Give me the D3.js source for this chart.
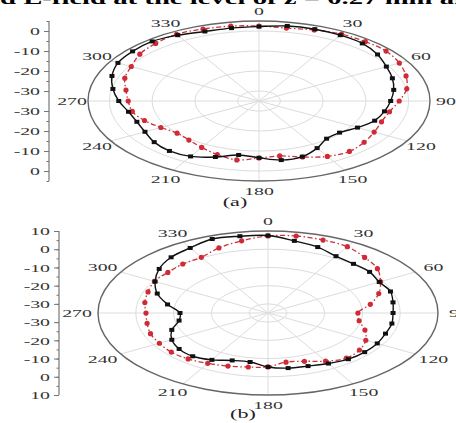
<!DOCTYPE html>
<html><head><meta charset="utf-8">
<script src="https://cdn.jsdelivr.net/npm/d3@7"></script>
<style>html,body{margin:0;padding:0;background:#fff;overflow:hidden}</style>
</head><body><svg id="c" width="456" height="423"></svg>
<script>
// angles (deg, clockwise from top)
const angles = d3.range(0, 360, 10);
const angleLabels = [0,30,60,90,120,150,180,210,240,270,300,330];
// Plot (a) values (dB)
const aBlack = [2.2,3.1,3.2,3.0,2.6,1.2,-0.6,-1.8,-3.0,-4.2,-5.2,-6.2,-8.4,-10.4,-10.4,-7.8,-5.4,-5.0,
                -6.6,-7.6,-5.2,-3.0,-2.4,-3.0,-4.2,-4.6,-4.0,-2.2,-0.3,1.6,3.1,3.6,3.9,3.0,2.0,2.0];
const aRed   = [2.5,2.0,2.8,3.6,3.7,3.8,2.9,1.6,0.1,-2.2,-4.0,-4.5,-3.9,-2.9,-2.1,-3.0,-5.2,-7.1,
                -6.5,-5.1,-6.5,-8.2,-9.5,-10.0,-8.5,-6.5,-4.9,-4.4,-3.4,-1.6,-0.5,1.4,2.6,3.5,3.3,3.0];
// Plot (b) values (dB)
const bBlack = [7.5,5.2,3.5,1.0,0.2,0.1,-1.0,-0.5,-1.4,-1.9,-1.7,-1.9,-1.6,-1.6,-1.9,-3.0,-4.0,-4.3,
                -5.4,-7.7,-7.3,-5.3,-4.0,-4.3,-5.6,-7.9,-11.1,-11.7,-8.0,-3.8,-0.5,2.6,4.9,6.2,8.2,7.8];
const bRed   = [7.3,7.9,7.6,7.0,4.8,2.8,-0.6,-3.8,-7.5,-11.2,-10.5,-7.7,-5.1,-3.4,-2.7,-4.5,-6.8,-7.6,
                -5.4,-4.9,-4.0,-3.1,-2.1,-1.6,-1.8,-1.9,-2.5,-2.7,-1.9,-1.2,-0.3,-0.4,0.1,0.3,3.0,5.2];
const aTicks = [0,-10,-20,-30];
const bTicks = [10,0,-10,-20,-30];
const rings = [-30,-20,-10,0];
const titleText = "d E-field at the level of z = 0.27 mm an";

const svg = d3.select("#c");
const SX = 1.8; // horizontal stretch of glyphs
const FONT = "'Liberation Serif','Times New Roman',serif";

svg.append("text").attr("x",0).attr("y",4)
  .attr("font-family",FONT).attr("font-weight","bold").attr("font-size",17)
  .attr("textLength",470).attr("lengthAdjust","spacingAndGlyphs")
  .attr("fill","#000").text(titleText);

function drawPlot(cfg){
  const {cx,cy,rx,ry,domain,axisX,ticks,black,red,caption,capX,capY,labDx} = cfg;
  const g = svg.append("g");
  const sx = d3.scaleLinear().domain(domain).range([0,rx]);
  const sy = d3.scaleLinear().domain(domain).range([0,ry]);
  const px = (a,v)=> cx + sx(v)*Math.sin(a*Math.PI/180);
  const py = (a,v)=> cy - sy(v)*Math.cos(a*Math.PI/180);
  // grid rings
  g.selectAll(".ring").data(rings).join("ellipse")
    .attr("cx",cx).attr("cy",cy).attr("rx",d=>sx(d)).attr("ry",d=>sy(d))
    .attr("fill","none").attr("stroke","#dcdcdc").attr("stroke-width",1);
  // spokes
  g.selectAll(".spoke").data(angleLabels).join("line")
    .attr("x1",cx).attr("y1",cy)
    .attr("x2",a=>px(a,domain[1])).attr("y2",a=>py(a,domain[1]))
    .attr("stroke","#dcdcdc").attr("stroke-width",1);
  // outer ellipse
  g.append("ellipse").attr("cx",cx).attr("cy",cy).attr("rx",rx).attr("ry",ry)
    .attr("fill","none").attr("stroke","#666").attr("stroke-width",1.4);
  // angle labels
  g.selectAll(".al").data(angleLabels).join("text")
    .attr("transform",a=>`translate(${cx+(rx+labDx)*Math.sin(a*Math.PI/180)},${cy-(ry+10)*Math.cos(a*Math.PI/180)}) scale(${SX},1)`)
    .attr("text-anchor","middle").attr("dominant-baseline","central")
    .attr("font-family",FONT).attr("font-size",11).attr("fill","#333")
    .text(a=>a);
  // series
  const line = d3.line().x(d=>px(d.a,d.v)).y(d=>py(d.a,d.v)).curve(d3.curveCatmullRomClosed.alpha(0.5));
  const redData = angles.map((a,i)=>({a,v:red[i]}));
  const blackData = angles.map((a,i)=>({a,v:black[i]}));
  g.append("path").datum(redData).attr("d",line).attr("fill","none")
    .attr("stroke","#cc2f38").attr("stroke-width",1.3).attr("stroke-dasharray","5,2.5,1.5,2.5");
  g.selectAll(".rm").data(redData).join("circle")
    .attr("cx",d=>px(d.a,d.v)).attr("cy",d=>py(d.a,d.v)).attr("r",2.6).attr("fill","#cf2a35");
  g.append("path").datum(blackData).attr("d",line).attr("fill","none")
    .attr("stroke","#111").attr("stroke-width",1.4);
  g.selectAll(".bm").data(blackData).join("rect")
    .attr("x",d=>px(d.a,d.v)-2.5).attr("y",d=>py(d.a,d.v)-2).attr("width",5).attr("height",4).attr("fill","#111");
  // left mirrored axis
  const up = d3.scaleLinear().domain(domain).range([cy, cy-ry]);
  const dn = d3.scaleLinear().domain(domain).range([cy, cy+ry]);
  const minor = d3.range(domain[0]+5, domain[1]+0.1, 5).filter(v=>v>-33);
  [up,dn].forEach(s=>{
    const ax = g.append("g").attr("transform",`translate(${axisX},0)`);
    ax.call(d3.axisLeft(s).tickValues(minor).tickSize(2.5).tickFormat(""));
    ax.select(".domain").remove();
    ax.selectAll("line").attr("stroke","#777");
    const ax2 = g.append("g").attr("transform",`translate(${axisX},0)`);
    ax2.call(d3.axisLeft(s).tickValues(ticks).tickSize(5).tickPadding(0));
    ax2.select(".domain").remove();
    ax2.selectAll("line").attr("stroke","#777");
    ax2.selectAll("text").attr("x",null).attr("dy",null)
      .attr("dominant-baseline","central")
      .attr("transform",`translate(-9,0) scale(${SX},1)`)
      .attr("font-family",FONT).attr("font-size",11).attr("fill","#333")
      .text(d=> String(d));
  });
  g.append("line").attr("x1",axisX).attr("x2",axisX).attr("y1",cy-ry).attr("y2",cy+ry)
    .attr("stroke","#777").attr("stroke-width",1.2);
  // caption
  g.append("text").attr("transform",`translate(${capX},${capY}) scale(1.7,1)`)
    .attr("text-anchor","middle").attr("dominant-baseline","central")
    .attr("font-family",FONT).attr("font-size",13).attr("fill","#222").text(caption);
}

drawPlot({cx:259,cy:101,rx:171,ry:80,domain:[-35,5],axisX:49,ticks:aTicks,black:aBlack,red:aRed,caption:"(a)",capX:235,capY:202,labDx:16});
drawPlot({cx:268,cy:313,rx:170,ry:82,domain:[-35,10],axisX:59,ticks:bTicks,black:bBlack,red:bRed,caption:"(b)",capX:243,capY:414,labDx:21});
</script></body></html>
